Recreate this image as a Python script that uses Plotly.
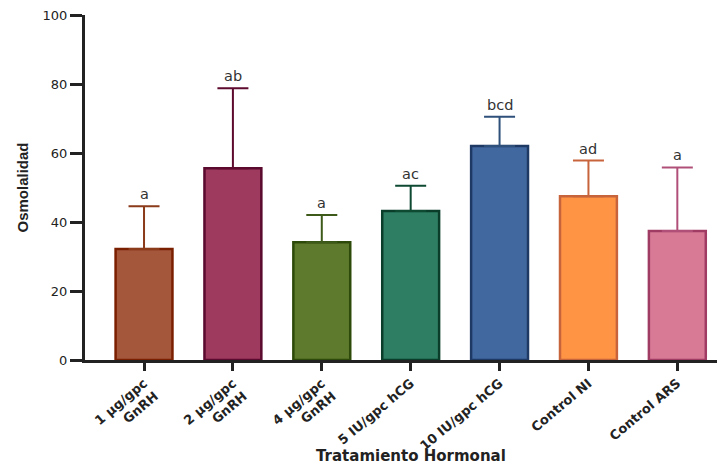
import plotly.graph_objects as go

categories = ["1 µg/gpc<br>GnRH", "2 µg/gpc<br>GnRH", "4 µg/gpc<br>GnRH",
              "5 IU/gpc hCG", "10 IU/gpc hCG", "Control NI", "Control ARS"]
means = [32.2, 55.6, 34.1, 43.2, 62.0, 47.5, 37.4]
upper = [44.6, 78.8, 42.0, 50.5, 70.5, 57.8, 55.8]
letters = ["a", "ab", "a", "ac", "bcd", "ad", "a"]
y_ticks = [0, 20, 40, 60, 80, 100]

fills = ["#A5573C", "#9E3A5E", "#5E7A2C", "#2E7E64", "#4268A0", "#FF9445", "#D87A96"]
outlines = ["#7A2000", "#5A0A2E", "#2E4A0A", "#0A3E2A", "#1E3A64", "#C8643C", "#A03C64"]
errcols = ["#8B3A1A", "#5E0A2E", "#3E5A1A", "#0E4A32", "#2E507A", "#C8643C", "#B05078"]

FONT = "Liberation Sans, Arial, sans-serif"
WIDE = "DejaVu Sans, Liberation Sans, sans-serif"
INK = "#222222"

fig = go.Figure()
for i, cat in enumerate(categories):
    fig.add_trace(go.Bar(
        x=[i], y=[means[i]], width=0.64,
        marker=dict(color=fills[i], line=dict(color=outlines[i], width=2.5)),
        error_y=dict(type="data", symmetric=False, array=[upper[i] - means[i]],
                     arrayminus=[0], color=errcols[i], thickness=2, width=15.5),
        showlegend=False,
    ))
    fig.add_annotation(x=i, y=upper[i], text=letters[i], showarrow=False,
                       yanchor="bottom", yshift=2,
                       font=dict(family=WIDE, size=14.5, color="#333333"))

# axis titles as annotations (paper coords relative to the plot area)
fig.add_annotation(xref="paper", yref="paper", x=(411 - 85) / 635, y=(360 - 456) / 345,
                   text="<b>Tratamiento Hormonal</b>", showarrow=False,
                   xanchor="center", yanchor="middle",
                   font=dict(family=WIDE, size=15, color=INK))
fig.add_annotation(xref="paper", yref="paper", x=(22 - 85) / 635, y=0.5,
                   text="<b>Osmolalidad</b>", showarrow=False, textangle=-90,
                   xanchor="center", yanchor="middle",
                   font=dict(family=FONT, size=15, color=INK))

fig.update_layout(
    width=717, height=459,
    margin=dict(l=77, r=5, t=7, b=107),
    plot_bgcolor="white", paper_bgcolor="white",
    barmode="overlay",
    font=dict(family=FONT, color=INK),
    xaxis=dict(
        range=[-0.664, 6.48], automargin=False,
        tickmode="array", tickvals=list(range(len(categories))),
        ticktext=["<b>%s</b>" % c.replace("<br>", "</b><br><b>") for c in categories],
        tickangle=-40, ticks="outside", ticklen=8, tickwidth=3, tickcolor=INK,
        showline=True, linecolor=INK, linewidth=2.5, showgrid=False, zeroline=False,
        tickfont=dict(family=WIDE, size=13, color=INK), ticklabeloverflow="allow",
    ),
    yaxis=dict(
        range=[0, 100], tickvals=y_ticks, automargin=False,
        ticks="outside", ticklen=12, tickwidth=3, tickcolor=INK,
        showline=True, linecolor=INK, linewidth=3, showgrid=False, zeroline=False,
        tickfont=dict(family=WIDE, size=13, color=INK), ticklabeloverflow="allow",
        tickprefix="<b>", ticksuffix="</b>",
    ),
)

fig.write_html("out.html")
